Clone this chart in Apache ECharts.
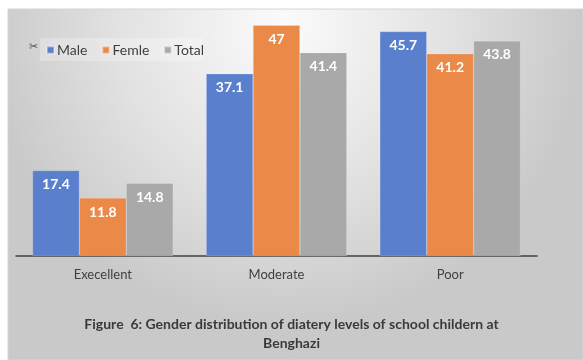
<!DOCTYPE html>
<html>
<head>
<meta charset="utf-8">
<script src="https://cdn.jsdelivr.net/npm/echarts@6/dist/echarts.min.js"></script>
<style>
  html, body { margin: 0; padding: 0; background: #ffffff; }
  #chart { width: 583px; height: 360px; }
</style>
</head>
<body>
<div id="chart"></div>
<script>
// Dietary level categories and values per group
const categories = ['Execellent', 'Moderate', 'Poor'];
const maleValues = [17.4, 37.1, 45.7];
const femaleValues = [11.8, 47, 41.2];
const totalValues = [14.8, 41.4, 43.8];
const seriesNames = ['Male', 'Femle', 'Total'];
const captionLines = ['Figure  6: Gender distribution of diatery levels of school childern at', 'Benghazi'];

const FONT = 'Lato, "Open Sans", sans-serif';
const colors = ['#5a7fcc', '#eb8a48', '#a9a9a9'];

const chart = echarts.init(document.getElementById('chart'), null, { renderer: 'canvas' });

const labelStyle = {
  show: true,
  position: 'insideTop',
  distance: 7,
  color: '#ffffff',
  fontFamily: FONT,
  fontWeight: 'bold',
  fontSize: 14
};

function barSeries(name, data, color) {
  return {
    name: name,
    type: 'bar',
    data: data,
    barGap: '0%',
    barCategoryGap: '19%',
    itemStyle: { color: color, borderColor: 'rgba(255,255,255,0.35)', borderWidth: 0.5 },
    label: labelStyle,
    z: 3
  };
}

chart.setOption({
  animation: false,
  color: colors,
  graphic: [
    {
      type: 'rect',
      z: -10,
      shape: { x: 8, y: 9, width: 575, height: 351 },
      style: {
        fill: new echarts.graphic.RadialGradient(0.48, 0.05, 0.85, [
          { offset: 0, color: '#fbfbfb' },
          { offset: 0.55, color: '#e2e2e2' },
          { offset: 1, color: '#c9c9c9' }
        ]),
        stroke: '#d4d4d4',
        lineWidth: 1
      },
      silent: true
    },
    {
      type: 'rect',
      z: -5,
      shape: { x: 40, y: 38, width: 163, height: 23 },
      style: { fill: 'rgba(255,255,255,0.25)' },
      silent: true
    },
    {
      type: 'text',
      left: 29,
      top: 42,
      style: { text: '✂', fill: '#505050', font: 'bold 11px "DejaVu Sans"' },
      silent: true
    },
    {
      type: 'text',
      left: 'center',
      top: 315,
      style: {
        text: captionLines.join('\n'),
        fill: '#3a3a3a',
        font: 'bold 14px ' + FONT,
        textAlign: 'center',
        lineHeight: 19
      },
      silent: true
    }
  ],
  legend: {
    data: seriesNames,
    left: 41,
    top: 38,
    icon: 'rect',
    itemWidth: 7,
    itemHeight: 7,
    itemGap: 14,
    textStyle: { color: '#404040', fontFamily: FONT, fontSize: 14, padding: [0, 0, 0, -2] }
  },
  grid: { left: 16, right: 46, top: 10.5, bottom: 104, containLabel: false },
  xAxis: {
    type: 'category',
    data: categories,
    axisLine: { lineStyle: { color: '#404040', width: 1.5 } },
    axisTick: { show: false },
    axisLabel: { color: '#404040', fontFamily: FONT, fontSize: 13, margin: 12 }
  },
  yAxis: {
    type: 'value',
    min: 0,
    max: 50,
    show: false,
    splitLine: { show: false }
  },
  series: [
    barSeries(seriesNames[0], maleValues, colors[0]),
    barSeries(seriesNames[1], femaleValues, colors[1]),
    barSeries(seriesNames[2], totalValues, colors[2])
  ]
});
</script>
</body>
</html>
